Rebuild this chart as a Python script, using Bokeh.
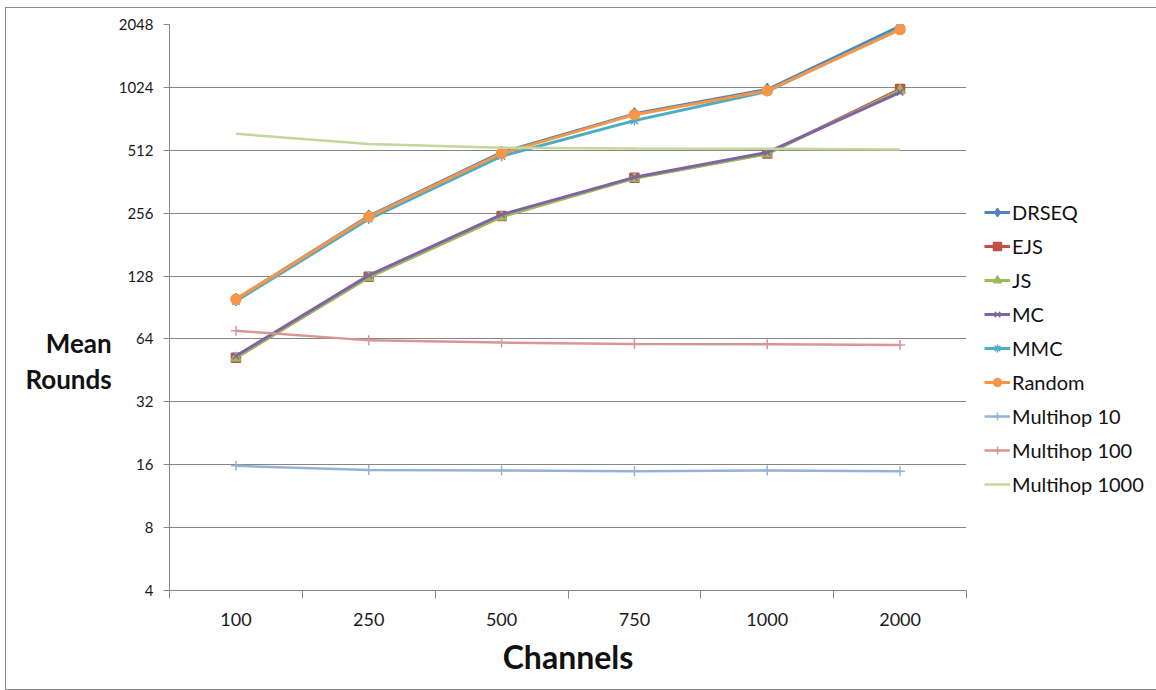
from bokeh.plotting import figure
from bokeh.models import (Range1d, FixedTicker, Legend, LegendItem,
                          CustomJSTickFormatter)
from bokeh.embed import file_html
from bokeh.resources import INLINE

# Number of channels (categories along x)
channels = ["100", "250", "500", "750", "1000", "2000"]

# Mean rounds per algorithm
drseq = [99, 248, 500, 765, 1000, 2010]
ejs = [52, 127, 248, 378, 494, 1005]
js = [52, 126, 246, 376, 492, 990]
mc = [53, 129, 252, 380, 500, 970]
mmc = [97, 240, 480, 710, 980, 1970]
random_ = [99, 246, 495, 758, 988, 1936]
multihop_10 = [15.8, 15.1, 15.0, 14.9, 15.0, 14.9]
multihop_100 = [70, 63, 61.5, 60.5, 60.3, 59.8]
multihop_1000 = [614, 549, 526, 522, 520, 516]

y_ticks = [4, 8, 16, 32, 64, 128, 256, 512, 1024, 2048]

series = [
    ("DRSEQ", drseq, "#4F81BD", "diamond", 12, 3),
    ("EJS", ejs, "#C0504D", "square", 9, 3),
    ("JS", js, "#9BBB59", "triangle", 10, 3),
    ("MC", mc, "#8064A2", "x", 9, 3),
    ("MMC", mmc, "#4BACC6", "asterisk", 10, 3),
    ("Random", random_, "#F79646", "circle", 10, 3),
    ("Multihop 10", multihop_10, "#95B3D7", "cross", 10, 2.5),
    ("Multihop 100", multihop_100, "#D99694", "cross", 10, 2.5),
    ("Multihop 1000", multihop_1000, "#C3D69B", None, 0, 2.5),
]

n = len(channels)
xs = [i + 0.5 for i in range(n)]

GRID = "#868686"
FONT = "Lato"

p = figure(frame_width=797, frame_height=566,
           x_range=Range1d(0, n), y_range=Range1d(y_ticks[0], y_ticks[-1]),
           y_axis_type="log", output_backend="svg", toolbar_location=None,
           min_border_left=163, min_border_right=189,
           min_border_top=16, min_border_bottom=99)
p.margin = (7, 0, 0, 5)
p.styles = {"border": "1px solid #8e8e8e"}
p.outline_line_color = None
p.background_fill_color = "white"
p.border_fill_color = "white"

# y axis: powers of two
p.yaxis.ticker = FixedTicker(ticks=y_ticks, minor_ticks=[])
p.yaxis.formatter = CustomJSTickFormatter(code="return tick.toFixed(0)")
p.yaxis.axis_line_color = GRID
p.yaxis.major_tick_line_color = GRID
p.yaxis.major_tick_out = 6
p.yaxis.major_tick_in = 0
p.yaxis.minor_tick_line_color = None
p.yaxis.major_label_standoff = 10
p.yaxis.major_label_text_font = FONT
p.yaxis.major_label_text_font_size = "15px"
p.yaxis.major_label_text_color = "#1a1a1a"
# leading blank lines push the two-line title down beside the 64 gridline
p.yaxis.axis_label = "\n\n\nMean\nRounds"
p.yaxis.axis_label_orientation = "horizontal"
p.yaxis.axis_label_standoff = 4
p.yaxis.axis_label_text_font = FONT
p.yaxis.axis_label_text_font_size = "26px"
p.yaxis.axis_label_text_font_style = "bold"
p.yaxis.axis_label_text_line_height = 1.12
p.yaxis.axis_label_text_color = "#111111"

# x axis: labels centred on categories, tick marks between them
p.xaxis.ticker = FixedTicker(ticks=xs, minor_ticks=list(range(n + 1)))
p.xaxis.major_label_overrides = {x: c for x, c in zip(xs, channels)}
p.xaxis.axis_line_color = GRID
p.xaxis.major_tick_line_color = None
p.xaxis.major_tick_out = 0
p.xaxis.major_tick_in = 0
p.xaxis.minor_tick_line_color = GRID
p.xaxis.minor_tick_out = 8
p.xaxis.minor_tick_in = 0
p.xaxis.major_label_standoff = 14
p.xaxis.major_label_text_font = FONT
p.xaxis.major_label_text_font_size = "18px"
p.xaxis.major_label_text_color = "#1a1a1a"
p.xaxis.axis_label = "Channels"
p.xaxis.axis_label_standoff = 8
p.xaxis.axis_label_text_font = FONT
p.xaxis.axis_label_text_font_size = "32px"
p.xaxis.axis_label_text_font_style = "bold"
p.xaxis.axis_label_text_color = "#111111"

p.xgrid.visible = False
p.ygrid.grid_line_color = GRID
p.ygrid.grid_line_width = 1

items = []
for name, vals, color, marker, size, lw in series:
    rs = [p.line(xs, vals, line_color=color, line_width=lw)]
    if marker is not None:
        rs.append(p.scatter(xs, vals, marker=marker, size=size,
                            fill_color=color, line_color=color, line_width=1.5))
    items.append(LegendItem(label=name, renderers=rs))

legend = Legend(items=items, location=(18, 94), padding=0, margin=0,
                spacing=10, glyph_width=26, glyph_height=20, label_height=20,
                label_standoff=2, label_text_font=FONT,
                label_text_font_size="20px", label_text_color="#111111",
                border_line_color=None, background_fill_alpha=0)
p.add_layout(legend, "right")

open("out.html", "w").write(file_html(p, INLINE))
